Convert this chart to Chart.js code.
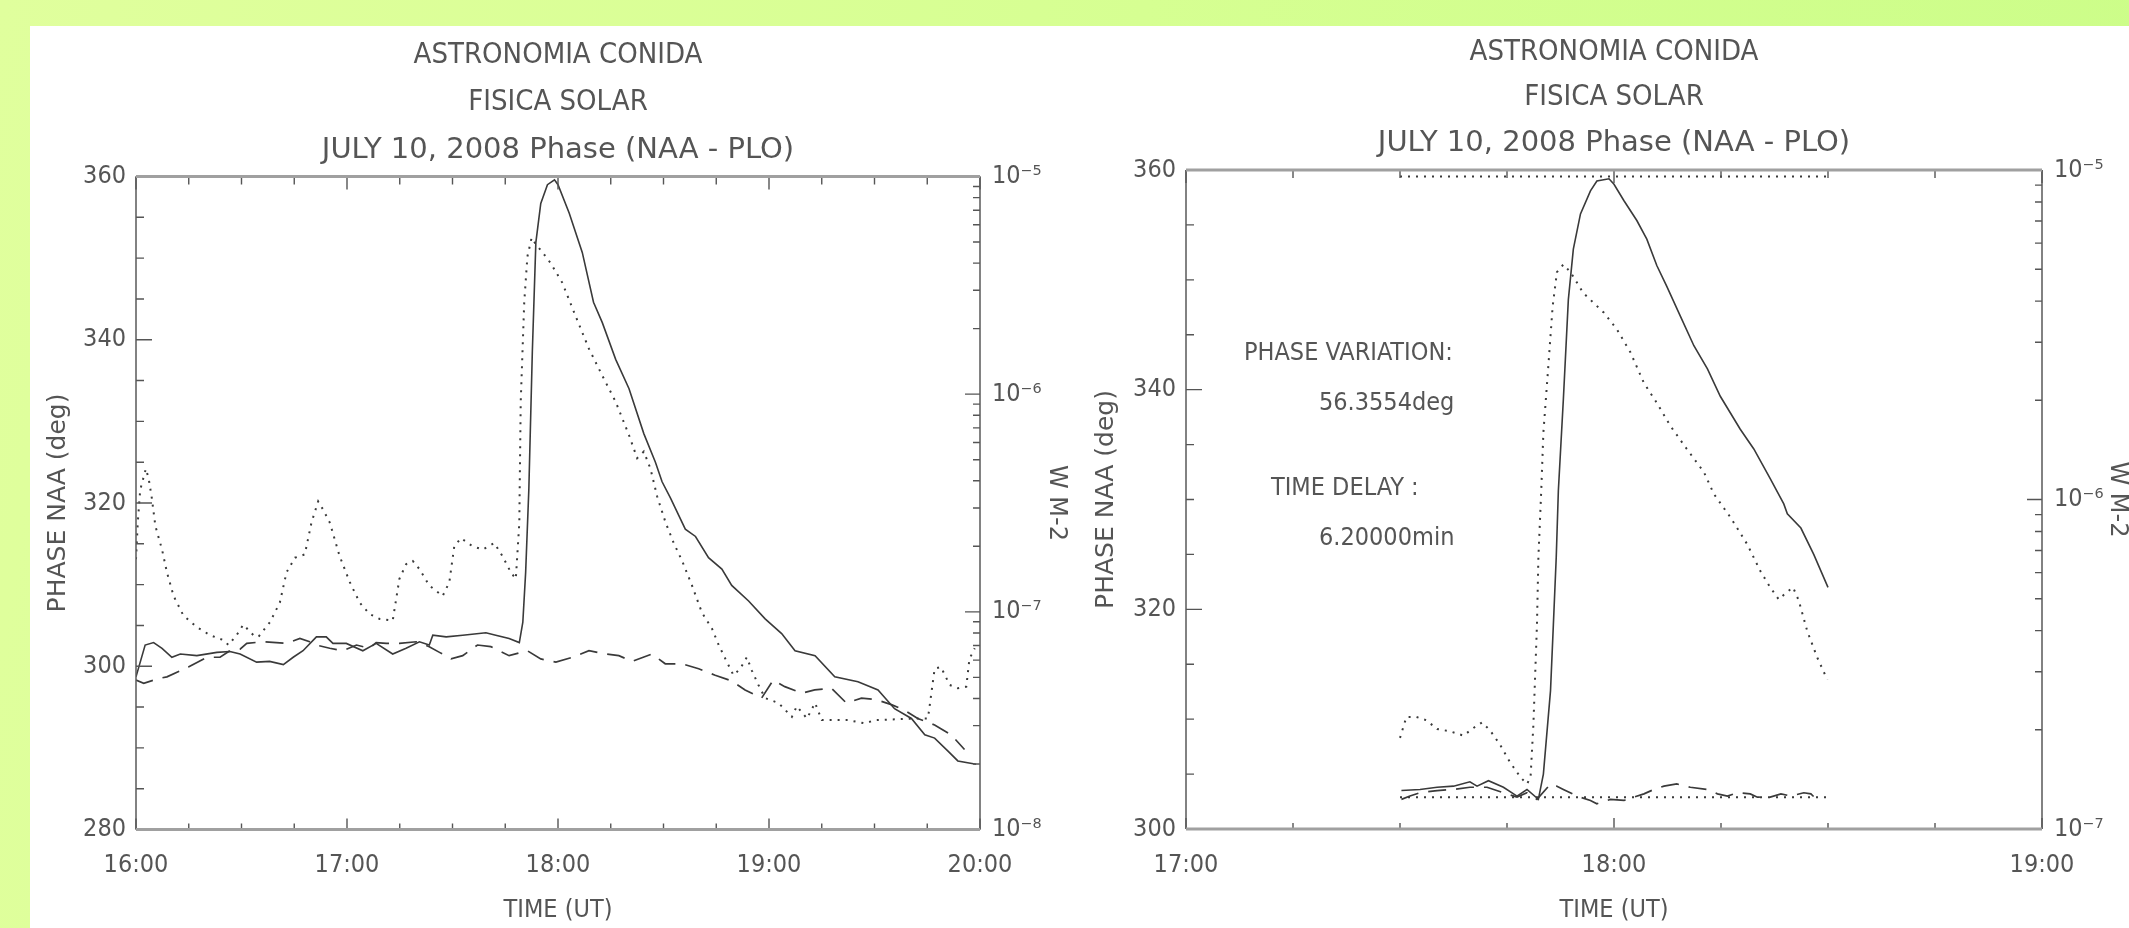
<!DOCTYPE html>
<html>
<head>
<meta charset="utf-8">
<script src="https://cdn.jsdelivr.net/npm/chart.js@4.4.1/dist/chart.umd.min.js"></script>
<style>
  html, body { margin: 0; padding: 0; }
  body {
    width: 2129px; height: 928px; position: relative; overflow: hidden;
    background: linear-gradient(100deg, #e0ff9d 0%, #d6ff92 50%, #cbfd88 100%);
  }
  #sheet { position: absolute; left: 30px; top: 26px; right: 0; bottom: 0; background: #fff; }
  canvas { position: absolute; top: 0; }
</style>
</head>
<body>
<div id="sheet"></div>
<canvas id="leftChart" width="1075" height="928" style="left:0"></canvas>
<canvas id="rightChart" width="1054" height="928" style="left:1075px"></canvas>
<script>
const FONT = '"DejaVu Sans Condensed", "Liberation Sans Narrow", "DejaVu Sans", sans-serif';
const WIDE = '"DejaVu Sans", sans-serif';
const INK = '#555';
const LINE = '#3a3a3a';

const titleLines = ['ASTRONOMIA CONIDA', 'FISICA SOLAR'];
const subtitleLine = 'JULY 10, 2008 Phase (NAA - PLO)';
const xTitle = 'TIME (UT)';
const yTitle = 'PHASE NAA (deg)';
const y2Title = 'W M-2';
const notes = ['PHASE VARIATION:', '56.3554deg', 'TIME DELAY :', '6.20000min'];

// times are minutes of the day (960 = 16:00), values in degrees of the left axis

// left panel, 16:00 - 20:00
const leftSolid = [
  [960, 298.7], [962.6, 302.6], [965, 302.9], [967.4, 302.2], [970.2, 301.1], [972.6, 301.5],
  [977.3, 301.3], [983, 301.7], [986.7, 301.8], [989.6, 301.5], [994.3, 300.5], [998, 300.6],
  [1001.9, 300.2], [1004.7, 301.1], [1007.5, 301.9], [1011.3, 303.6], [1014.1, 303.6], [1016, 302.8],
  [1019.8, 302.8], [1024.5, 301.9], [1028.3, 302.8], [1033, 301.5], [1036.8, 302.2], [1040.6, 303.0],
  [1043.4, 302.6], [1044.4, 303.8], [1048.2, 303.6], [1052.9, 303.8], [1059.5, 304.1], [1062.3, 303.8],
  [1066.1, 303.4], [1069, 302.9], [1070, 305.4], [1070.8, 311.5], [1071.7, 321.6], [1072.7, 338.5],
  [1073.7, 351.9], [1075.1, 356.7], [1077, 359.0], [1079, 359.6], [1080, 359.0], [1083.2, 355.5],
  [1086.9, 350.7], [1090.1, 344.6], [1092.6, 342.1], [1096.4, 337.6], [1100.2, 334.0], [1104.4, 328.5],
  [1107.7, 325.0], [1109.6, 322.6], [1112, 320.6], [1116.2, 316.8], [1119.1, 315.9], [1122.8, 313.3],
  [1126.6, 311.9], [1129.4, 309.9], [1134.2, 308.0], [1138.9, 305.8], [1143.6, 304.0], [1147.4, 301.9],
  [1153.1, 301.3], [1158.7, 298.7], [1165.3, 298.1], [1171, 297.1], [1175.7, 294.8], [1180.5, 293.6],
  [1184.3, 291.6], [1187.1, 291.2], [1190.9, 289.6], [1193.7, 288.4], [1198.9, 288.0]
];
const leftDotted = [
  [960, 313.1], [960.5, 317.6], [961.2, 321.6], [962.8, 324.2], [963.6, 323.0], [964.5, 320.6],
  [965.5, 317.2], [967.4, 314.3], [968.8, 311.5], [970.7, 308.6], [973.5, 306.2], [977.3, 304.8],
  [981.1, 303.8], [984.9, 303.2], [986.3, 302.6], [988.6, 303.8], [990.5, 305.1], [993.4, 303.8],
  [994.8, 303.6], [998.1, 305.4], [1000.9, 307.8], [1002.8, 311.5], [1005.2, 313.3], [1008, 313.7],
  [1009.9, 317.6], [1011.8, 320.2], [1013.2, 319.2], [1015.1, 317.6], [1017.9, 313.5], [1020.8, 310.3],
  [1023.6, 307.8], [1026.4, 306.4], [1029.3, 305.8], [1033, 305.6], [1034.9, 310.7], [1036.8, 312.5],
  [1038.7, 312.9], [1040.6, 311.9], [1043.4, 309.9], [1047.2, 308.6], [1049.1, 310.3], [1050.5, 314.7],
  [1052.4, 315.7], [1055.7, 314.7], [1058.6, 314.3], [1061.9, 315.1], [1064.2, 313.5], [1066.6, 311.5],
  [1068, 310.7], [1069, 317.6], [1069.1, 321.6], [1069.4, 332.4], [1070.4, 344.6], [1071.3, 350.2],
  [1072.5, 352.5], [1073.7, 351.7], [1075.6, 350.7], [1077.9, 349.4], [1081.2, 347.0], [1085, 342.9],
  [1088.8, 338.9], [1092.6, 335.6], [1096.4, 332.4], [1100.2, 328.3], [1102.5, 325.5], [1104.4, 326.3],
  [1106.3, 324.2], [1108.2, 320.8], [1110.6, 317.6], [1112.9, 315.1], [1115.3, 312.9], [1118.1, 309.9],
  [1120.9, 306.6], [1123.8, 304.6], [1125.7, 302.6], [1127.6, 300.9], [1129.9, 298.9], [1131.8, 299.7],
  [1133.7, 301.1], [1135.1, 299.5], [1137, 297.7], [1138.9, 296.1], [1142.7, 295.5], [1146.5, 293.8],
  [1147.9, 295.1], [1150.8, 293.6], [1153.1, 295.5], [1155, 293.4], [1162.5, 293.4], [1167.3, 293.0],
  [1170.1, 293.4], [1181.4, 293.6], [1185.2, 293.6], [1187.1, 299.7], [1188.9, 299.9], [1191.4, 297.7],
  [1193.7, 297.3], [1196.1, 297.5], [1197, 300.9], [1198.5, 302.2]
];
const leftDashed = [
  [960, 298.3], [962.2, 297.9], [966.4, 298.5], [968.8, 298.7], [974.9, 299.9], [980.1, 301.1],
  [983.9, 301.1], [986.7, 301.9], [989.6, 302.1], [991.5, 302.8], [996.2, 303.0], [1002.8, 302.8],
  [1006.6, 303.4], [1009.4, 303.0], [1011.3, 302.6], [1015.1, 302.2], [1018.9, 301.9], [1022.7, 302.6],
  [1026.4, 302.2], [1028.3, 302.9], [1031.2, 302.8], [1034.9, 302.8], [1039.7, 303.0], [1043.4, 302.4],
  [1046.3, 301.7], [1049.6, 300.9], [1052.9, 301.3], [1057.1, 302.6], [1060.9, 302.4], [1066.1, 301.3],
  [1071.3, 301.9], [1075.1, 300.9], [1079.4, 300.5], [1084.1, 301.1], [1088.8, 301.9], [1093.5, 301.5],
  [1097.3, 301.3], [1101.1, 300.6], [1106.7, 301.5], [1110.5, 300.3], [1115.2, 300.3], [1120, 299.7],
  [1124.7, 298.9], [1129.4, 298.2], [1133.2, 297.1], [1137.9, 296.1], [1141.2, 298.3], [1144.5, 297.5],
  [1149.3, 296.7], [1153, 297.1], [1157.8, 297.3], [1162, 295.5], [1166.3, 296.1], [1170.5, 295.9],
  [1174.8, 295.3], [1178.6, 294.6], [1182.3, 293.6], [1187.1, 292.8], [1191.8, 291.6], [1195.6, 289.8]
];

// right panel, 17:00 - 19:00 (data 17:30 - 18:30)
const rightSolid = [
  [1050.2, 303.5], [1052.8, 303.6], [1055.2, 303.8], [1057.5, 303.9], [1059.8, 304.3], [1060.8, 303.9],
  [1062.4, 304.4], [1064.5, 303.8], [1066.4, 303.0], [1067.8, 303.6], [1069.4, 302.7], [1070.1, 305.0],
  [1071.1, 312.6], [1071.5, 318.6], [1071.9, 324.7], [1072.2, 330.8], [1072.9, 339.1], [1073.6, 348.2],
  [1074.3, 352.8], [1075.3, 356.0], [1076.7, 358.1], [1077.6, 359.0], [1079.3, 359.2], [1080.0, 358.7],
  [1081.4, 357.2], [1083.2, 355.4], [1084.6, 353.7], [1086.0, 351.3], [1087.4, 349.4], [1089.3, 346.7],
  [1091.2, 344.0], [1093.1, 341.9], [1094.9, 339.4], [1097.7, 336.4], [1099.6, 334.6], [1101.9, 331.9],
  [1103.8, 329.6], [1104.3, 328.7], [1106.2, 327.4], [1108.0, 325.0], [1110.0, 322.0]
];
const rightDotted = [
  [1050.0, 308.3], [1050.9, 310.2], [1052.3, 310.2], [1053.7, 309.9], [1055.2, 309.1], [1057.0, 308.9],
  [1058.9, 308.5], [1060.3, 309.2], [1061.5, 309.7], [1062.6, 309.0], [1064.0, 307.7], [1065.4, 306.1],
  [1066.9, 304.7], [1067.8, 304.1], [1068.3, 304.7], [1068.7, 309.5], [1069.2, 318.6], [1069.4, 324.7],
  [1069.8, 330.8], [1070.1, 336.1], [1070.8, 342.2], [1071.4, 347.6], [1072.0, 350.7], [1072.9, 351.4],
  [1073.9, 350.7], [1075.7, 348.8], [1078.6, 347.0], [1080.4, 345.5], [1082.3, 343.4], [1084.2, 340.6],
  [1086.0, 338.8], [1087.9, 336.7], [1090.2, 334.6], [1092.6, 332.5], [1094.0, 330.5], [1096.3, 328.4],
  [1098.7, 325.9], [1100.5, 323.5], [1101.9, 322.0], [1103.1, 320.9], [1104.1, 321.5], [1105.1, 322.0],
  [1105.9, 320.8], [1107.1, 318.0], [1108.5, 315.6], [1109.9, 313.6]
];
const rightDashed = [
  [1050.2, 302.7], [1051.4, 303.0], [1052.8, 303.3], [1055.2, 303.5], [1057.5, 303.6], [1059.8, 303.8],
  [1062.2, 303.8], [1064.5, 303.3], [1066.4, 302.9], [1067.8, 303.3], [1069.2, 302.7], [1071.1, 304.1],
  [1072.0, 303.9], [1072.9, 303.6], [1074.8, 303.0], [1076.7, 302.6], [1077.6, 302.3], [1079.5, 302.7],
  [1081.4, 302.6], [1082.8, 302.9], [1084.2, 303.2], [1085.6, 303.6], [1087.0, 303.9], [1088.8, 304.1],
  [1090.7, 303.8], [1093.1, 303.6], [1094.5, 303.2], [1095.9, 303.0], [1097.3, 303.3], [1099.1, 303.2],
  [1100.1, 302.9], [1101.9, 302.9], [1103.4, 303.2], [1104.8, 303.0], [1106.6, 303.3], [1107.6, 303.2],
  [1108.7, 302.5]
];
const rightRefTop = [[1050, 359.4], [1110, 359.4]];
const rightRefBottom = [[1050, 302.9], [1110, 302.9]];

const SUP = { '-': '\u207B', '0': '\u2070', '1': '\u00B9', '2': '\u00B2', '3': '\u00B3', '4': '\u2074',
  '5': '\u2075', '6': '\u2076', '7': '\u2077', '8': '\u2078', '9': '\u2079' };

function isPow10(v) {
  const e = Math.log10(v);
  return Math.abs(e - Math.round(e)) < 1e-6;
}
function powLabel(v) {
  if (!isPow10(v)) return '';
  return '10' + String(Math.round(Math.log10(v))).split('').map(c => SUP[c]).join('');
}
function clockLabel(v) {
  return v % 60 === 0 ? (v / 60) + ':00' : '';
}
function logTickValues(min, max) {
  const out = [];
  for (let e = Math.floor(Math.log10(min)); e <= Math.ceil(Math.log10(max)); e++) {
    for (let m = 1; m <= 9; m++) {
      const v = m * Math.pow(10, e);
      if (v >= min * 0.999999 && v <= max * 1.000001) out.push(v);
    }
  }
  return out;
}
const pts = arr => arr.map(([x, y]) => ({ x, y }));

// IDL-like inward ticks on all four sides plus the frame
const frameTicks = {
  id: 'frameTicks',
  afterDatasetsDraw(chart) {
    const { ctx, chartArea: a, scales } = chart;
    const { x, y, yr } = scales;
    ctx.save();
    ctx.strokeStyle = INK;
    ctx.lineWidth = 1.4;
    ctx.beginPath();
    x.ticks.forEach(t => {
      const px = x.getPixelForValue(t.value);
      const len = t.value % 60 === 0 ? 11 : 6;
      ctx.moveTo(px, a.bottom); ctx.lineTo(px, a.bottom - len);
      ctx.moveTo(px, a.top); ctx.lineTo(px, a.top + len + 2);
    });
    y.ticks.forEach(t => {
      const py = y.getPixelForValue(t.value);
      const len = t.value % 20 === 0 ? 16 : 8;
      ctx.moveTo(a.left, py); ctx.lineTo(a.left + len, py);
    });
    yr.ticks.forEach(t => {
      const py = yr.getPixelForValue(t.value);
      const len = isPow10(t.value) ? 15 : 7;
      ctx.moveTo(a.right, py); ctx.lineTo(a.right - len, py);
    });
    ctx.stroke();

    ctx.beginPath();
    ctx.lineWidth = 1.5;
    ctx.strokeStyle = '#5a5a5a';
    ctx.moveTo(a.left, a.top); ctx.lineTo(a.left, a.bottom);
    ctx.moveTo(a.right, a.top); ctx.lineTo(a.right, a.bottom);
    ctx.stroke();
    ctx.beginPath();
    ctx.lineWidth = 3;
    ctx.strokeStyle = '#a0a0a0';
    ctx.moveTo(a.left, a.top); ctx.lineTo(a.right, a.top);
    ctx.moveTo(a.left, a.bottom); ctx.lineTo(a.right, a.bottom);
    ctx.stroke();
    ctx.restore();
  }
};

const notesPlugin = {
  id: 'notes',
  afterDraw(chart, args, opts) {
    if (!opts.items) return;
    const { ctx, chartArea: a } = chart;
    ctx.save();
    ctx.fillStyle = INK;
    ctx.font = '25px ' + FONT;
    ctx.textBaseline = 'middle';
    ctx.textAlign = 'left';
    opts.items.forEach(it => ctx.fillText(it.text, a.left + it.dx, it.y));
    ctx.restore();
  }
};

function lineSet(data, kind) {
  const ds = {
    data: pts(data), borderColor: LINE, borderWidth: 1.6,
    pointRadius: 0, tension: 0, fill: false, yAxisID: 'y'
  };
  if (kind === 'dot') { ds.borderDash = [2, 6]; ds.borderWidth = 2; }
  if (kind === 'dash') { ds.borderDash = [18, 10]; ds.borderWidth = 1.7; }
  return ds;
}

function makeChart(id, cfg) {
  return new Chart(document.getElementById(id), {
    type: 'line',
    data: { datasets: cfg.datasets },
    plugins: [frameTicks, notesPlugin],
    options: {
      responsive: false,
      animation: false,
      events: [],
      layout: { padding: 0 },
      plugins: {
        legend: { display: false },
        tooltip: { enabled: false },
        title: {
          display: true, fullSize: false, text: titleLines, color: INK,
          font: { family: FONT, size: 29, weight: 'normal', lineHeight: cfg.titleLH / 29 },
          padding: { top: cfg.titleTop, bottom: 0 }
        },
        subtitle: {
          display: true, fullSize: false, text: subtitleLine, color: INK,
          font: { family: WIDE, size: 29, weight: 'normal', lineHeight: cfg.titleLH / 29 },
          padding: { top: 0, bottom: cfg.titleBottom }
        },
        notes: { items: cfg.notes || null }
      },
      scales: {
        x: {
          type: 'linear', min: cfg.xMin, max: cfg.xMax,
          grid: { display: false, drawTicks: false }, border: { display: false },
          ticks: { stepSize: 15, autoSkip: false, maxRotation: 0, padding: 21, color: INK,
                   font: { family: FONT, size: 25 }, callback: clockLabel },
          title: { display: true, text: xTitle, color: INK, padding: { top: 0, bottom: 5.5 },
                   font: { family: FONT, size: 25, lineHeight: 1 } },
          afterFit: s => { s.height = cfg.xHeight; }
        },
        y: {
          type: 'linear', position: 'left', min: cfg.yMin, max: cfg.yMax,
          grid: { display: false, drawTicks: false }, border: { display: false },
          ticks: { stepSize: 5, autoSkip: false, padding: 10, color: INK,
                   font: { family: FONT, size: 25 },
                   callback: v => (v % 20 === 0 ? String(v) : '') },
          title: { display: true, text: yTitle, color: INK, padding: { top: cfg.yTitlePad, bottom: 0 },
                   font: { family: WIDE, size: 25, lineHeight: 1 } },
          afterFit: s => { s.width = cfg.yWidth; }
        },
        yr: {
          type: 'logarithmic', position: 'right', min: cfg.rMin, max: cfg.rMax,
          grid: { display: false, drawTicks: false }, border: { display: false },
          afterBuildTicks: s => { s.ticks = logTickValues(cfg.rMin, cfg.rMax).map(v => ({ value: v })); },
          ticks: { autoSkip: false, padding: 12, color: INK,
                   font: { family: FONT, size: 25 }, callback: powLabel },
          title: { display: true, text: y2Title, color: INK, padding: { top: cfg.rTitlePad, bottom: 0 },
                   font: { family: WIDE, size: 24, lineHeight: 1 } },
          afterFit: s => { s.width = cfg.rWidth; }
        }
      }
    }
  });
}

makeChart('leftChart', {
  datasets: [lineSet(leftSolid, 'solid'), lineSet(leftDotted, 'dot'), lineSet(leftDashed, 'dash')],
  xMin: 960, xMax: 1200, yMin: 280, yMax: 360, rMin: 1e-8, rMax: 1e-5,
  titleLH: 47.5, titleTop: 31.25, titleBottom: 2.75,
  xHeight: 98.5, yWidth: 136, rWidth: 95,
  yTitlePad: 45.5, rTitlePad: 6.5
});

makeChart('rightChart', {
  datasets: [lineSet(rightSolid, 'solid'), lineSet(rightDotted, 'dot'), lineSet(rightDashed, 'dash'),
             lineSet(rightRefTop, 'dot'), lineSet(rightRefBottom, 'dot')],
  xMin: 1020, xMax: 1140, yMin: 300, yMax: 360, rMin: 1e-7, rMax: 1e-5,
  titleLH: 45.5, titleTop: 29.25, titleBottom: 4.25,
  xHeight: 99, yWidth: 111, rWidth: 87,
  yTitlePad: 19, rTitlePad: 0,
  notes: [
    { text: notes[0], dx: 58, y: 353 },
    { text: notes[1], dx: 133, y: 403 },
    { text: notes[2], dx: 85, y: 488 },
    { text: notes[3], dx: 133, y: 538 }
  ]
});
</script>
</body>
</html>
